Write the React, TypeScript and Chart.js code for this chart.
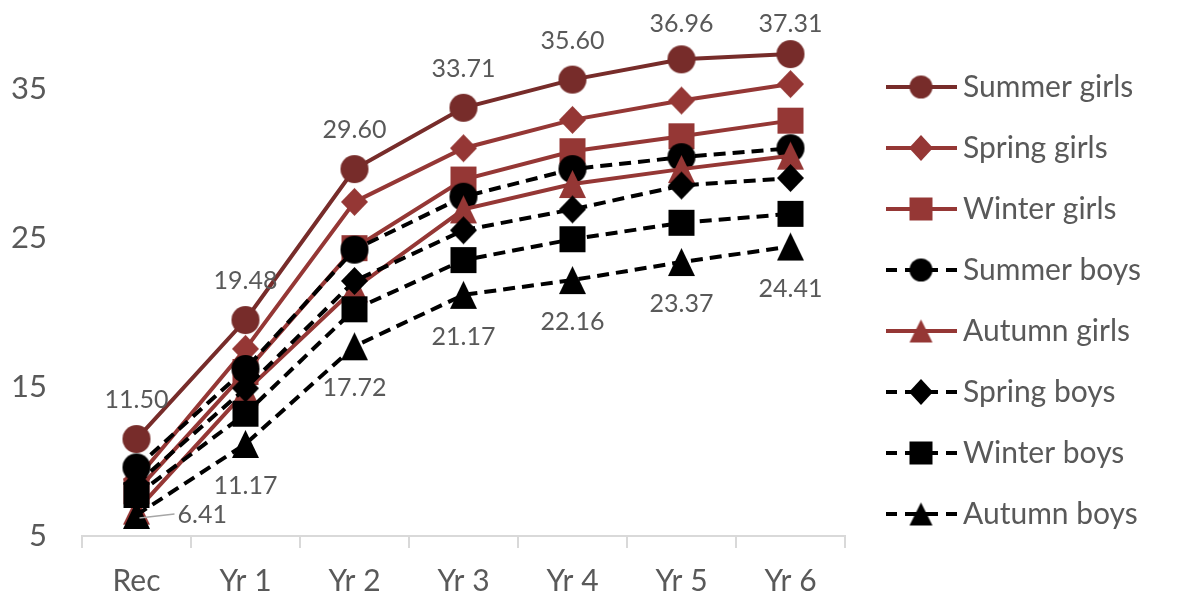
import React, { useEffect, useRef } from 'react';
import { Chart, registerables } from 'chart.js';

Chart.register(...registerables);

// ---------- data ----------
const categories = ['Rec', 'Yr 1', 'Yr 2', 'Yr 3', 'Yr 4', 'Yr 5', 'Yr 6'];
const seriesNames = [
  'Summer girls',
  'Spring girls',
  'Winter girls',
  'Summer boys',
  'Autumn girls',
  'Spring boys',
  'Winter boys',
  'Autumn boys',
];
const summerGirls = [11.5, 19.48, 29.6, 33.71, 35.6, 36.96, 37.31];
const springGirls = [8.8, 17.55, 27.4, 31.0, 32.9, 34.2, 35.3];
const winterGirls = [8.0, 16.0, 24.3, 28.9, 30.8, 31.8, 32.85];
const summerBoys = [9.6, 16.2, 24.2, 27.75, 29.6, 30.4, 31.0];
const autumnGirls = [6.7, 14.7, 21.6, 26.9, 28.6, 29.6, 30.5];
const springBoys = [8.5, 14.9, 22.1, 25.5, 26.9, 28.5, 29.0];
const winterBoys = [7.75, 13.2, 20.2, 23.5, 24.9, 26.0, 26.6];
const autumnBoys = [6.41, 11.17, 17.72, 21.17, 22.16, 23.37, 24.41];
const yTicks = [5, 15, 25, 35];

const seriesValues = [
  summerGirls,
  springGirls,
  winterGirls,
  summerBoys,
  autumnGirls,
  springBoys,
  winterBoys,
  autumnBoys,
];

// ---------- styles ----------
const DARK_RED = '#772C2A';
const RED = '#953735';
const BLACK = '#000000';
const TEXT = '#595959';
const FONT = 'Lato, "Open Sans", sans-serif';

type Shape = 'circle' | 'diamond' | 'square' | 'triangle';
const seriesStyle: { color: string; shape: Shape; dashed: boolean }[] = [
  { color: DARK_RED, shape: 'circle', dashed: false },
  { color: RED, shape: 'diamond', dashed: false },
  { color: RED, shape: 'square', dashed: false },
  { color: BLACK, shape: 'circle', dashed: true },
  { color: RED, shape: 'triangle', dashed: false },
  { color: BLACK, shape: 'diamond', dashed: true },
  { color: BLACK, shape: 'square', dashed: true },
  { color: BLACK, shape: 'triangle', dashed: true },
];

const chartSize: Record<Shape, [number, number]> = {
  circle: [28, 28],
  diamond: [27, 28],
  square: [26, 26],
  triangle: [27, 28],
};
const legendSize: Record<Shape, [number, number]> = {
  circle: [23, 23],
  diamond: [24, 26],
  square: [23, 23],
  triangle: [23, 23],
};

function makeMarker(shape: Shape, color: string, w: number, h: number): HTMLCanvasElement {
  const pad = 1;
  const c = document.createElement('canvas');
  c.width = w + pad * 2;
  c.height = h + pad * 2;
  const ctx = c.getContext('2d')!;
  ctx.fillStyle = color;
  ctx.beginPath();
  const cx = c.width / 2;
  const cy = c.height / 2;
  if (shape === 'circle') {
    ctx.ellipse(cx, cy, w / 2, h / 2, 0, 0, Math.PI * 2);
  } else if (shape === 'diamond') {
    ctx.moveTo(cx, cy - h / 2);
    ctx.lineTo(cx + w / 2, cy);
    ctx.lineTo(cx, cy + h / 2);
    ctx.lineTo(cx - w / 2, cy);
    ctx.closePath();
  } else if (shape === 'square') {
    ctx.rect(cx - w / 2, cy - h / 2, w, h);
  } else {
    ctx.moveTo(cx, cy - h / 2);
    ctx.lineTo(cx + w / 2, cy + h / 2);
    ctx.lineTo(cx - w / 2, cy + h / 2);
    ctx.closePath();
  }
  ctx.fill();
  return c;
}

export default function App() {
  const ref = useRef<HTMLCanvasElement | null>(null);

  useEffect(() => {
    if (!ref.current) return;

    const chartMarkers = seriesStyle.map((s) =>
      makeMarker(s.shape, s.color, chartSize[s.shape][0], chartSize[s.shape][1])
    );
    const legendMarkers = seriesStyle.map((s) =>
      makeMarker(s.shape, s.color, legendSize[s.shape][0], legendSize[s.shape][1])
    );

    const datasets = seriesNames.map((name, i) => ({
      label: name,
      data: seriesValues[i],
      borderColor: seriesStyle[i].color,
      backgroundColor: seriesStyle[i].color,
      borderWidth: 4,
      borderDash: seriesStyle[i].dashed ? [12, 7] : [],
      borderCapStyle: 'butt' as const,
      tension: 0,
      pointStyle: chartMarkers[i] as any,
      pointRadius: 14,
      pointHoverRadius: 14,
      order: seriesNames.length - i,
      fill: false,
      clip: false as any,
    }));

    const dataLabelPlugin = {
      id: 'dataLabelPlugin',
      afterDatasetsDraw(chart: any) {
        const ctx: CanvasRenderingContext2D = chart.ctx;
        ctx.save();
        ctx.font = `25px ${FONT}`;
        ctx.fillStyle = TEXT;
        ctx.textBaseline = 'middle';
        // Summer girls: above
        const topMeta = chart.getDatasetMeta(0);
        topMeta.data.forEach((pt: any, j: number) => {
          ctx.textAlign = 'center';
          const y = Math.max(pt.y - 39, 24);
          ctx.fillText(summerGirls[j].toFixed(2), pt.x, y);
        });
        // Autumn boys: below (first one to the right with a leader line)
        const botMeta = chart.getDatasetMeta(7);
        botMeta.data.forEach((pt: any, j: number) => {
          const txt = autumnBoys[j].toFixed(2);
          if (j === 0) {
            ctx.strokeStyle = '#A6A6A6';
            ctx.lineWidth = 1.5;
            ctx.beginPath();
            ctx.moveTo(pt.x + 3, pt.y + 3);
            ctx.lineTo(pt.x + 38, pt.y - 1);
            ctx.stroke();
            ctx.textAlign = 'left';
            ctx.fillText(txt, pt.x + 41, pt.y);
          } else {
            ctx.textAlign = 'center';
            ctx.fillText(txt, pt.x, pt.y + 42);
          }
        });
        ctx.restore();
      },
    };

    const legendPlugin = {
      id: 'customLegend',
      afterDraw(chart: any) {
        const ctx: CanvasRenderingContext2D = chart.ctx;
        ctx.save();
        const x0 = 886;
        const x1 = 957;
        const mx = 921;
        seriesNames.forEach((name, i) => {
          const y = 87 + i * 61;
          const st = seriesStyle[i];
          ctx.strokeStyle = st.color;
          ctx.lineWidth = 4;
          ctx.lineCap = 'butt';
          ctx.setLineDash([]);
          ctx.beginPath();
          if (st.dashed) {
            ctx.moveTo(x0, y);
            ctx.lineTo(x0 + 11, y);
            ctx.moveTo(x0 + 19, y);
            ctx.lineTo(x1 - 19, y);
            ctx.moveTo(x1 - 11, y);
            ctx.lineTo(x1, y);
          } else {
            ctx.moveTo(x0, y);
            ctx.lineTo(x1, y);
          }
          ctx.stroke();
          const m = legendMarkers[i];
          ctx.drawImage(m, mx - m.width / 2, y - m.height / 2);
          ctx.fillStyle = TEXT;
          ctx.font = `30px ${FONT}`;
          ctx.textAlign = 'left';
          ctx.textBaseline = 'middle';
          ctx.fillText(name, 963, y);
        });
        ctx.restore();
      },
    };

    const chart = new Chart(ref.current, {
      type: 'line',
      data: { labels: categories, datasets },
      options: {
        responsive: false,
        maintainAspectRatio: false,
        animation: false,
        devicePixelRatio: 1,
        layout: { autoPadding: false, padding: { top: 14, right: 333, bottom: 0, left: 0 } },
        plugins: {
          legend: { display: false },
          tooltip: { enabled: false },
        },
        scales: {
          x: {
            type: 'category',
            offset: true,
            grid: {
              display: true,
              drawOnChartArea: false,
              offset: true,
              tickLength: 12,
              color: '#D9D9D9',
              lineWidth: 2,
            },
            border: { display: true, color: '#D9D9D9', width: 2 },
            ticks: {
              color: TEXT,
              font: { family: FONT, size: 30 },
              padding: 15,
              maxRotation: 0,
              autoSkip: false,
            },
            afterFit: (s: any) => {
              s.height = 61;
            },
          },
          y: {
            type: 'linear',
            min: 5,
            max: 40,
            grid: { display: false },
            border: { display: false },
            afterBuildTicks: (s: any) => {
              s.ticks = yTicks.map((v) => ({ value: v }));
            },
            ticks: {
              color: TEXT,
              font: { family: FONT, size: 31 },
              padding: 27,
            },
            afterFit: (s: any) => {
              s.width = 82;
              s.paddingTop = 0;
              s.paddingBottom = 0;
            },
          },
        },
      },
      plugins: [dataLabelPlugin, legendPlugin],
    } as any);

    return () => chart.destroy();
  }, []);

  return (
    <div
      style={{
        position: 'fixed',
        left: 0,
        top: 0,
        width: 1178,
        height: 597,
        background: '#ffffff',
      }}
    >
      <canvas
        ref={ref}
        width={1178}
        height={597}
        style={{ display: 'block', width: 1178, height: 597 }}
      />
    </div>
  );
}
